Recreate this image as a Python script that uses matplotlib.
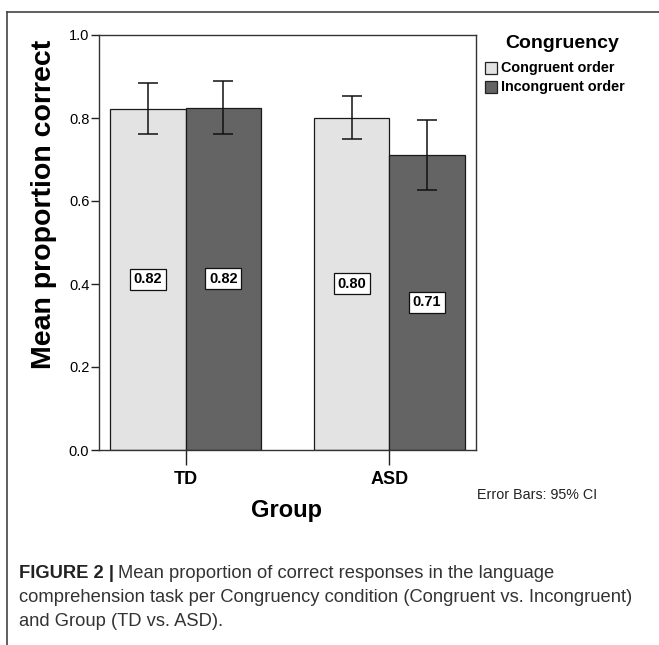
import matplotlib
matplotlib.use("Agg")
import matplotlib.pyplot as plt
from matplotlib.patches import Rectangle
import numpy as np

plt.rcParams['font.family'] = ['Liberation Sans', 'DejaVu Sans']

groups = ["TD", "ASD"]
conditions = ["Congruent order", "Incongruent order"]
means = {"Congruent order": [0.822, 0.801], "Incongruent order": [0.825, 0.711]}
ci_low = {"Congruent order": [0.761, 0.750], "Incongruent order": [0.762, 0.627]}
ci_high = {"Congruent order": [0.885, 0.852], "Incongruent order": [0.888, 0.796]}
value_labels = {"Congruent order": ["0.82", "0.80"], "Incongruent order": ["0.82", "0.71"]}
colors = {"Congruent order": "#e3e3e3", "Incongruent order": "#646464"}
yticks = [0.0, 0.2, 0.4, 0.6, 0.8, 1.0]

W, H = 659, 645
fig = plt.figure(figsize=(W / 100, H / 100), dpi=100)
fig.patch.set_facecolor("white")

def fx(px):
    return px / W

def fy(py):
    return 1 - py / H

ax = fig.add_axes([fx(99), fy(450), fx(476) - fx(99), fy(35) - fy(450)])

x = np.arange(len(groups))
bw = 0.37
for i, cond in enumerate(conditions):
    off = (i - 0.5) * bw
    m = np.array(means[cond])
    lo = m - np.array(ci_low[cond])
    hi = np.array(ci_high[cond]) - m
    ax.bar(x + off, m, width=bw, color=colors[cond], edgecolor="#1a1a1a", linewidth=0.9, zorder=2)
    ax.errorbar(x + off, m, yerr=[lo, hi], fmt="none", ecolor="#111111", elinewidth=1.1,
                capsize=7, capthick=1.1, zorder=3)
    for xi, mi, lab in zip(x + off, m, value_labels[cond]):
        ax.text(xi, mi / 2, lab, ha="center", va="center", fontsize=10.5, fontweight="bold",
                bbox=dict(boxstyle="square,pad=0.25", facecolor="white", edgecolor="#111111", linewidth=0.9),
                zorder=4)

ax.set_xlim(-0.425, 1.425)
ax.set_ylim(0, 1.0)
ax.set_yticks(yticks)
ax.set_yticklabels([f"{t:.1f}" for t in yticks], fontsize=10.5)
ax.set_xticks(x)
ax.set_xticklabels(groups, fontsize=13, fontweight="bold")
ax.tick_params(axis="y", length=6, width=1, color="#222222", pad=1)
ax.tick_params(axis="x", length=11, width=1, color="#222222", pad=4)
for s in ax.spines.values():
    s.set_color("#333333")
    s.set_linewidth(1.0)

fig.text(fx(287), fy(510), "Group", ha="center", va="center", fontsize=17, fontweight="bold")
fig.text(fx(44), fy(204), "Mean proportion correct", ha="center", va="center", rotation=90,
         fontsize=20.5, fontweight="bold")

# legend
fig.text(fx(562), fy(43), "Congruency", ha="center", va="center", fontsize=14, fontweight="bold")
for j, cond in enumerate(conditions):
    yc = [68, 87][j]
    fig.patches.append(Rectangle((fx(485), fy(yc + 6)), fx(497) - fx(485), fy(yc - 6) - fy(yc + 6),
                                 transform=fig.transFigure, facecolor=colors[cond],
                                 edgecolor="#222222", linewidth=0.9))
    fig.text(fx(501), fy(yc), cond, ha="left", va="center", fontsize=10.4, fontweight="bold")

fig.text(fx(477), fy(495), "Error Bars: 95% CI", ha="left", va="center", fontsize=10.3,
         color="#222222")

# caption
cap_x = fx(19)
cfs = 13.2
t1 = fig.text(cap_x, fy(574), "FIGURE 2 |", ha="left", va="center", fontsize=cfs, fontweight="bold", color="#222222")
fig.canvas.draw()
bb = t1.get_window_extent()
fig.text(bb.x1 / W + fx(4), fy(574), "Mean proportion of correct responses in the language",
         ha="left", va="center", fontsize=cfs, color="#333333")
fig.text(cap_x, fy(598), "comprehension task per Congruency condition (Congruent vs. Incongruent)",
         ha="left", va="center", fontsize=cfs, color="#333333")
fig.text(cap_x, fy(622), "and Group (TD vs. ASD).", ha="left", va="center", fontsize=cfs, color="#333333")

# outer frame lines
fig.add_artist(plt.Line2D([fx(7), fx(7)], [fy(12), 0], transform=fig.transFigure, color="#444444", linewidth=1.2))
fig.add_artist(plt.Line2D([fx(7), 1], [fy(12), fy(12)], transform=fig.transFigure, color="#444444", linewidth=1.2))

fig.savefig("out.png", dpi=100, facecolor="white")
